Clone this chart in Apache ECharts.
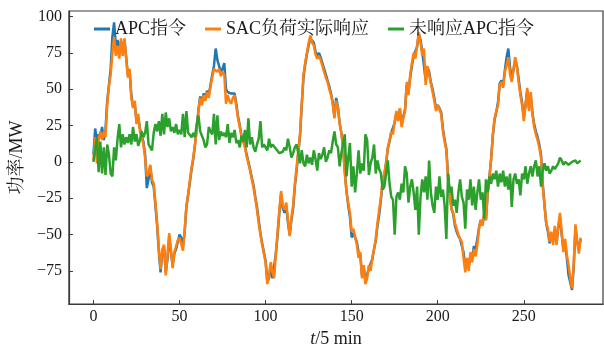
<!DOCTYPE html>
<html>
<head>
<meta charset="utf-8">
<script src="https://cdn.jsdelivr.net/npm/echarts@6/dist/echarts.min.js"></script>
<style>
  html, body { margin: 0; padding: 0; background: #fff; }
  #chart { width: 604px; height: 353px; }
</style>
</head>
<body>
<div id="chart"></div>
<script>
// APC command, SAC load response and the unanswered part, one sample per 5 min
const apcCommand = [
  5, 23, 14, 19, 17, 24, 15, 22, 42, 53,
  64, 86, 96, 80, 84, 74, 83, 76, 84, 72,
  60, 62, 46, 38, 40, 28, 31, 23, 18, 14,
  5, -18, -12, -3, -14, -17, -30, -44, -62, -76,
  -62, -58, -76, -67, -51, -62, -71, -63, -60, -55,
  -50, -52, -58, -48, -31, -23, -14, -5, 2, 12,
  24, 36, 45, 41, 47, 44, 49, 46, 53, 60,
  66, 78, 70, 71, 62, 64, 68, 50, 48, 48,
  47, 47, 47, 40, 31, 25, 18, 15, 11, 5,
  0, -5, -11, -16, -24, -31, -40, -49, -56, -62,
  -68, -82, -80, -71, -80, -79, -63, -50, -35, -22,
  -32, -35, -30, -42, -50, -40, -32, -17, -6, 6,
  18, 39, 58, 67, 74, 80, 85, 84, 82, 76,
  73, 75, 72, 68, 64, 60, 56, 52, 47, 41,
  31, 44, 38, 27, 20, 11, -6, -20, -30, -38,
  -52, -49, -48, -55, -62, -64, -78, -73, -82, -82,
  -73, -72, -67, -60, -54, -44, -36, -26, -14, -9,
  -1, 9, 14, 20, 20, 27, 34, 29, 36, 26,
  31, 36, 53, 48, 58, 66, 73, 73, 79, 88,
  84, 76, 77, 56, 65, 62, 55, 50, 44, 37,
  39, 37, 34, 23, 15, 9, -10, -22, -32, -36,
  -44, -48, -51, -53, -58, -62, -72, -68, -72, -64,
  -66, -58, -60, -53, -45, -40, -43, -36, -40, -22,
  -11, 2, 18, 29, 34, 41, 54, 56, 53, 63,
  72, 78, 65, 57, 63, 70, 66, 57, 48, 41,
  31, 39, 49, 37, 46, 34, 26, 21, 17, 12,
  5, -15, -29, -42, -48, -56, -50, -55, -46, -56,
  -45, -38, -50, -60, -56, -66, -78, -83, -88, -72,
  -45, -55, -60, -53
];

const sacResponse = [
  1, 17, -1, 15, 21, 15, 21, 17, 40, 52,
  60, 75, 86, 73, 80, 71, 85, 73, 85, 71,
  58, 64, 44, 37, 42, 26, 33, 21, 17, 12,
  3, -10, -8, -2, -12, -15, -28, -42, -60, -74,
  -60, -57, -78, -65, -49, -60, -73, -62, -58, -54,
  -52, -51, -61, -47, -30, -22, -13, -4, 3, 12,
  22, 35, 44, 39, 46, 42, 48, 44, 52, 58,
  64, 63, 62, 64, 59, 62, 60, 40, 46, 42,
  40, 44, 46, 38, 30, 24, 17, 14, 10, 4,
  -1, -6, -12, -18, -25, -33, -42, -50, -57, -63,
  -69, -84, -78, -69, -76, -80, -62, -48, -33, -20,
  -30, -33, -28, -40, -51, -38, -30, -15, -4, 8,
  19, 40, 60, 68, 75, 82, 87, 82, 80, 74,
  71, 73, 70, 66, 62, 58, 55, 50, 46, 40,
  30, 42, 37, 26, 20, 10, -8, -21, -28, -35,
  -48, -46, -46, -57, -66, -62, -80, -71, -84, -80,
  -71, -75, -66, -60, -53, -42, -33, -24, -12, -8,
  0, 10, 15, 21, 19, 28, 35, 28, 37, 24,
  30, 35, 55, 46, 60, 68, 75, 71, 80, 89,
  82, 73, 78, 53, 66, 60, 54, 48, 42, 35,
  39, 36, 33, 21, 14, 8, -12, -24, -33, -35,
  -42, -46, -50, -53, -55, -66, -76, -66, -75, -62,
  -69, -60, -65, -57, -46, -40, -44, -35, -40, -21,
  -10, 1, 19, 30, 35, 39, 53, 55, 51, 62,
  66, 72, 60, 55, 64, 72, 66, 55, 46, 39,
  28, 39, 51, 35, 48, 33, 24, 19, 15, 10,
  3, -17, -30, -42, -46, -55, -48, -57, -44, -57,
  -44, -35, -48, -62, -53, -64, -71, -80, -87, -70,
  -43, -55, -63, -52
];

const unansweredApc = [
  0, 9, 17, -7, 14, -8, 10, -9, 12, 5,
  -8, -10, 10, 1, 16, 26, 10, 19, 12, 17,
  13, 19, 12, 24, 14, 19, 11, 15, 21, 17,
  20, 28, 12, 10, 8, 20, 26, 21, 28, 18,
  33, 19, 34, 24, 30, 21, 24, 20, 26, 19,
  22, 19, 33, 17, 35, 20, 21, 17, 20, 17,
  26, 32, 21, 18, 15, 10, 12, 24, 21, 19,
  33, 12, 32, 15, 21, 18, 20, 17, 26, 13,
  20, 17, 22, 13, 15, 10, 18, 14, 22, 10,
  30, 12, 17, 10, 7, 12, 16, 28, 10, 12,
  13, 8, 16, 10, 12, 13, 9, 8, 6, 5,
  7, 10, 8, 16, 10, 3, 6, 10, 12, 6,
  -1, 8, -1, -3, 5, -1, 3, -2, 8, 2,
  -6, 6, 2, 5, 10, 0, 3, 8, 6, 14,
  21, 12, 10, -3, 6, 5, 19, -10, 3, 13,
  -17, -3, -21, -8, 8, -8, -1, -6, 19, 15,
  -9, -1, 3, 12, -8, 1, -5, -8, -19, -17,
  -8, 1, -15, -24, -26, -50, -24, -21, -26, -15,
  -21, -3, -8, -28, -17, -12, -21, -33, -17, -50,
  -24, -12, -21, -10, -26, 1, -21, -30, -35, -17,
  -26, -10, -24, -19, -30, -53, -8, -21, -17, -30,
  -26, -35, -21, -12, -24, -28, -46, -19, -26, -12,
  -30, -17, -33, -21, -12, -26, -21, -39, -12, -21,
  -10, -15, -8, -12, -6, -17, -8, -14, -6, -17,
  -10, -19, -8, -31, -12, -8, -15, -12, -23, -8,
  -12, -3, -15, -8, -3, -10, -3, 1, -10, -3,
  -17, -6, -1, -6, -3, -8, -6, -3, -5, -4,
  -1, 3, 1, -2, 0, -1, -2, -3, 0, -1,
  1, -1, 0, 1
];

const seriesNames = ['APC指令', 'SAC负荷实际响应', '未响应APC指令'];
const seriesColors = ['#1f77b4', '#ff7f0e', '#2ca02c'];
const xTicks = [0, 50, 100, 150, 200, 250];
const yTicks = [-75, -50, -25, 0, 25, 50, 75, 100];

const serif = "'Liberation Serif', 'Times New Roman', 'Noto Serif CJK SC', 'Noto Sans CJK SC', serif";
const ink = '#1a1a1a';
const frame = '#3a3a3a';

const toPairs = arr => arr.map((v, i) => [i, v]);
const minusSign = v => String(v).replace('-', '\u2212');

const chart = echarts.init(document.getElementById('chart'), null, { renderer: 'canvas' });

chart.setOption({
  animation: false,
  backgroundColor: '#fff',
  grid: {
    left: 67, top: 11, right: 1, bottom: 43,
    show: true, borderColor: frame, borderWidth: 1.2, backgroundColor: 'transparent'
  },
  legend: {
    data: seriesNames,
    left: 89, top: 15,
    icon: 'rect', itemWidth: 16, itemHeight: 3, itemGap: 19,
    textStyle: { fontFamily: serif, fontSize: 18, color: ink, padding: [0, 0, 0, 0] }
  },
  xAxis: {
    type: 'value',
    min: -14.25, max: 296,
    name: '{it|t}/5 min',
    nameLocation: 'middle', nameGap: 24,
    nameTextStyle: {
      fontFamily: serif, fontSize: 18, color: ink,
      rich: { it: { fontFamily: serif, fontSize: 18, fontStyle: 'italic', color: ink } }
    },
    axisLine: { show: true, onZero: false, lineStyle: { color: frame, width: 1.2 } },
    axisTick: { show: true, inside: true, length: 4, customValues: xTicks, lineStyle: { color: frame, width: 1 } },
    axisLabel: { customValues: xTicks, fontFamily: serif, fontSize: 16, color: ink, margin: 5, formatter: minusSign },
    splitLine: { show: false }
  },
  yAxis: {
    type: 'value',
    min: -97.8, max: 103.8,
    name: '功率/MW',
    nameLocation: 'middle', nameGap: 39,
    nameTextStyle: { fontFamily: serif, fontSize: 18, color: ink },
    axisLine: { show: true, onZero: false, lineStyle: { color: frame, width: 1.2 } },
    axisTick: { show: true, inside: true, length: 4, customValues: yTicks, lineStyle: { color: frame, width: 1 } },
    axisLabel: { customValues: yTicks, fontFamily: serif, fontSize: 16, color: ink, margin: 7, formatter: minusSign },
    splitLine: { show: false }
  },
  series: [
    { name: seriesNames[0], data: toPairs(apcCommand) },
    { name: seriesNames[1], data: toPairs(sacResponse) },
    { name: seriesNames[2], data: toPairs(unansweredApc) }
  ].map((s, i) => Object.assign({
    type: 'line',
    showSymbol: false,
    symbol: 'none',
    color: seriesColors[i],
    lineStyle: { width: 2.5, color: seriesColors[i] },
    clip: true
  }, s))
});
</script>
</body>
</html>
